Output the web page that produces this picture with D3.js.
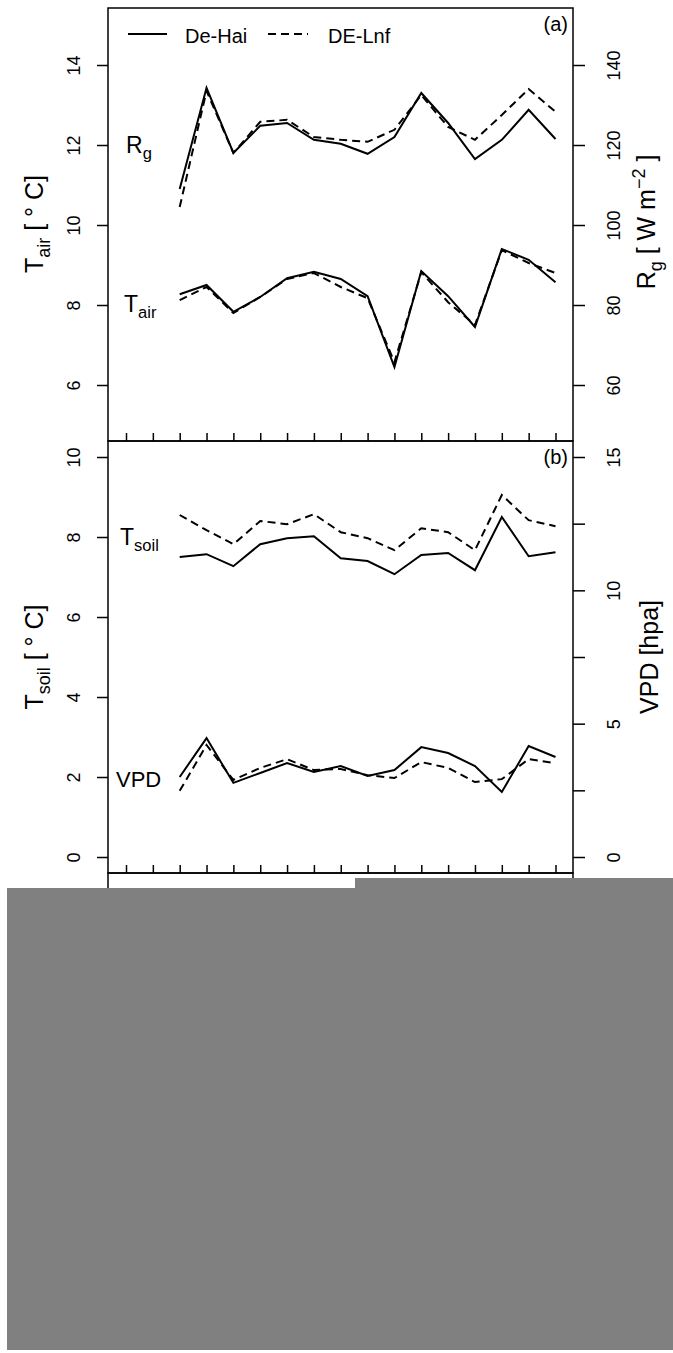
<!DOCTYPE html>
<html>
<head>
<meta charset="utf-8">
<script src="https://cdn.jsdelivr.net/npm/d3@7"></script>
<style>
  body { margin: 0; background: #fff; }
  text { font-family: "Liberation Sans", Arial, sans-serif; fill: #000; }
</style>
</head>
<body>
<svg id="chart" width="673" height="1353"></svg>
<script>
// years on the x axis (ticks) and years with data
const tickYears = [1996, 1997, 1998, 1999, 2000, 2001, 2002, 2003, 2004, 2005, 2006, 2007, 2008, 2009, 2010, 2011, 2012];
const years = [1998, 1999, 2000, 2001, 2002, 2003, 2004, 2005, 2006, 2007, 2008, 2009, 2010, 2011, 2012];

// panel (a): global radiation [W m-2] and air temperature [deg C]
const rgHai = [109, 134.3, 118, 124.8, 125.5, 121.3, 120.3, 117.8, 122, 133, 125.5, 116.5, 121.3, 128.8, 121.5];
const rgLnf = [104.5, 133.5, 118, 125.8, 126.3, 122, 121.3, 120.8, 123.8, 132.5, 124.5, 121.3, 127.5, 134, 128.3];
const tairHai = [8.27, 8.5, 7.83, 8.2, 8.67, 8.83, 8.65, 8.22, 6.45, 8.85, 8.22, 7.45, 9.4, 9.13, 8.57];
const tairLnf = [8.12, 8.45, 7.8, 8.2, 8.65, 8.8, 8.45, 8.17, 6.57, 8.82, 8.07, 7.5, 9.37, 9.05, 8.8];

// panel (b): soil temperature [deg C] and VPD [hpa]
const tsoilHai = [7.5, 7.57, 7.27, 7.82, 7.97, 8.02, 7.47, 7.4, 7.07, 7.55, 7.6, 7.17, 8.5, 7.52, 7.62];
const tsoilLnf = [8.55, 8.17, 7.82, 8.4, 8.32, 8.57, 8.12, 7.97, 7.67, 8.22, 8.12, 7.67, 9.05, 8.42, 8.27];
const vpdHai = [3.0, 4.46, 2.78, 3.15, 3.52, 3.19, 3.41, 3.04, 3.26, 4.12, 3.9, 3.41, 2.44, 4.16, 3.75];
const vpdLnf = [2.48, 4.2, 2.89, 3.34, 3.67, 3.26, 3.3, 3.07, 2.96, 3.56, 3.34, 2.81, 2.92, 3.67, 3.52];

const tairTicks = [6, 8, 10, 12, 14];
const rgTicks = [60, 80, 100, 120, 140];
const tsoilTicks = [0, 2, 4, 6, 8, 10];
const vpdTicks = [0, 2.5, 5, 7.5, 10, 12.5, 15];

const svg = d3.select("#chart");
const boxL = 108, boxR = 573;

const x = d3.scaleLinear().domain([1996, 2012]).range([126, 555.5]);
const yA = d3.scaleLinear().domain([5, 15]).range([425, 25]);
const yARg = d3.scaleLinear().domain([50, 150]).range([425, 25]);
const yB = d3.scaleLinear().domain([0, 10]).range([857, 457]);
const yBVpd = d3.scaleLinear().domain([0, 15]).range([857, 457]);

function styleAxis(g) {
    g.attr("font-family", null).attr("font-size", 18);
    g.select(".domain").remove();
    g.selectAll(".tick line").attr("stroke", "#000").attr("stroke-width", 1.5);
}

function leftAxis(scale, ticks) {
    const g = svg.append("g").attr("transform", `translate(${boxL},0)`)
        .call(d3.axisLeft(scale).tickValues(ticks).tickSize(11).tickFormat(d3.format("d")));
    styleAxis(g);
    g.selectAll(".tick text").attr("x", 0).attr("dy", 0).attr("text-anchor", "middle")
        .attr("fill", "#000").attr("transform", "translate(-28,0) rotate(-90)");
}

function rightAxis(scale, ticks, fmt) {
    const g = svg.append("g").attr("transform", `translate(${boxR},0)`)
        .call(d3.axisRight(scale).tickValues(ticks).tickSize(12).tickFormat(fmt));
    styleAxis(g);
    g.selectAll(".tick text").attr("x", 0).attr("dy", 0).attr("text-anchor", "middle")
        .attr("fill", "#000").attr("transform", "translate(47,0) rotate(-90)");
}

function bottomTicks(y0) {
    const g = svg.append("g").attr("transform", `translate(0,${y0})`)
        .call(d3.axisBottom(x).tickValues(tickYears).tickSize(-8).tickFormat(""));
    styleAxis(g);
}

// rich text helper: parts = [[text, kind], ...]
function richText(parent, parts, size) {
    const t = parent.append("text").attr("font-size", size);
    parts.forEach(([s, kind]) => {
        const sp = t.append("tspan").text(s);
        if (kind === "sub") sp.attr("font-size", size * 0.72).attr("dy", size * 0.28);
        else if (kind === "sup") sp.attr("font-size", size * 0.72).attr("dy", -size * 0.42);
        else if (kind === "back-sub") sp.attr("dy", -size * 0.28);
        else if (kind === "back-sup") sp.attr("dy", size * 0.42);
    });
    return t;
}

function drawLines(yScale, hai, lnf) {
    const line = d3.line().x((d, i) => x(years[i])).y(d => yScale(d));
    svg.append("path").datum(hai).attr("d", line)
        .attr("fill", "none").attr("stroke", "#000").attr("stroke-width", 2);
    svg.append("path").datum(lnf).attr("d", line)
        .attr("fill", "none").attr("stroke", "#000").attr("stroke-width", 2).attr("stroke-dasharray", "8,5");
}

// ---- panel boxes (third panel partly hidden below) ----
[[8, 441], [441, 873], [873, 1300]].forEach(([t, b]) => {
    svg.append("rect").attr("x", boxL).attr("y", t).attr("width", boxR - boxL).attr("height", b - t)
        .attr("fill", "none").attr("stroke", "#000").attr("stroke-width", 1.5);
});

// ---- panel (a) ----
leftAxis(yA, tairTicks);
rightAxis(yARg, rgTicks, d3.format("d"));
bottomTicks(441);
drawLines(yARg, rgHai, rgLnf);
drawLines(yA, tairHai, tairLnf);

richText(svg, [["R"], ["g", "sub"]], 23).attr("x", 126).attr("y", 153);
richText(svg, [["T"], ["air", "sub"]], 23).attr("x", 124).attr("y", 312);

// legend
svg.append("line").attr("x1", 128).attr("x2", 167).attr("y1", 34).attr("y2", 34)
    .attr("stroke", "#000").attr("stroke-width", 2);
svg.append("text").attr("x", 185).attr("y", 43).attr("font-size", 20).text("De-Hai");
svg.append("line").attr("x1", 268).attr("x2", 308).attr("y1", 34).attr("y2", 34)
    .attr("stroke", "#000").attr("stroke-width", 2).attr("stroke-dasharray", "8,5");
svg.append("text").attr("x", 328).attr("y", 43).attr("font-size", 20).text("DE-Lnf");
svg.append("text").attr("x", 568).attr("y", 31).attr("font-size", 20).attr("text-anchor", "end").text("(a)");

// axis titles (a)
richText(svg, [["T"], ["air", "sub"], [" [ \u00B0 C]", "back-sub"]], 25)
    .attr("text-anchor", "middle").attr("transform", "translate(43,224) rotate(-90)");
richText(svg, [["R"], ["g", "sub"], [" [ W m", "back-sub"], ["\u22122", "sup"], [" ]", "back-sup"]], 25)
    .attr("text-anchor", "middle").attr("transform", "translate(655,222) rotate(-90)");

// ---- panel (b) ----
leftAxis(yB, tsoilTicks);
rightAxis(yBVpd, vpdTicks, d => (d % 5 === 0 ? d3.format("d")(d) : ""));
bottomTicks(873);
drawLines(yB, tsoilHai, tsoilLnf);
drawLines(yBVpd, vpdHai, vpdLnf);

richText(svg, [["T"], ["soil", "sub"]], 23).attr("x", 120).attr("y", 545);
richText(svg, [["VPD"]], 22).attr("x", 116).attr("y", 787);
svg.append("text").attr("x", 568).attr("y", 464).attr("font-size", 20).attr("text-anchor", "end").text("(b)");

richText(svg, [["T"], ["soil", "sub"], [" [ \u00B0 C]", "back-sub"]], 25)
    .attr("text-anchor", "middle").attr("transform", "translate(43,657) rotate(-90)");
richText(svg, [["VPD [hpa]"]], 25)
    .attr("text-anchor", "middle").attr("transform", "translate(658,657) rotate(-90)");

// ---- grey cover over the lower part of the figure ----
svg.append("rect").attr("x", 355).attr("y", 878).attr("width", 673 - 355).attr("height", 20).attr("fill", "#808080");
svg.append("rect").attr("x", 7).attr("y", 888).attr("width", 673 - 7).attr("height", 1350 - 888).attr("fill", "#808080");
</script>
</body>
</html>
